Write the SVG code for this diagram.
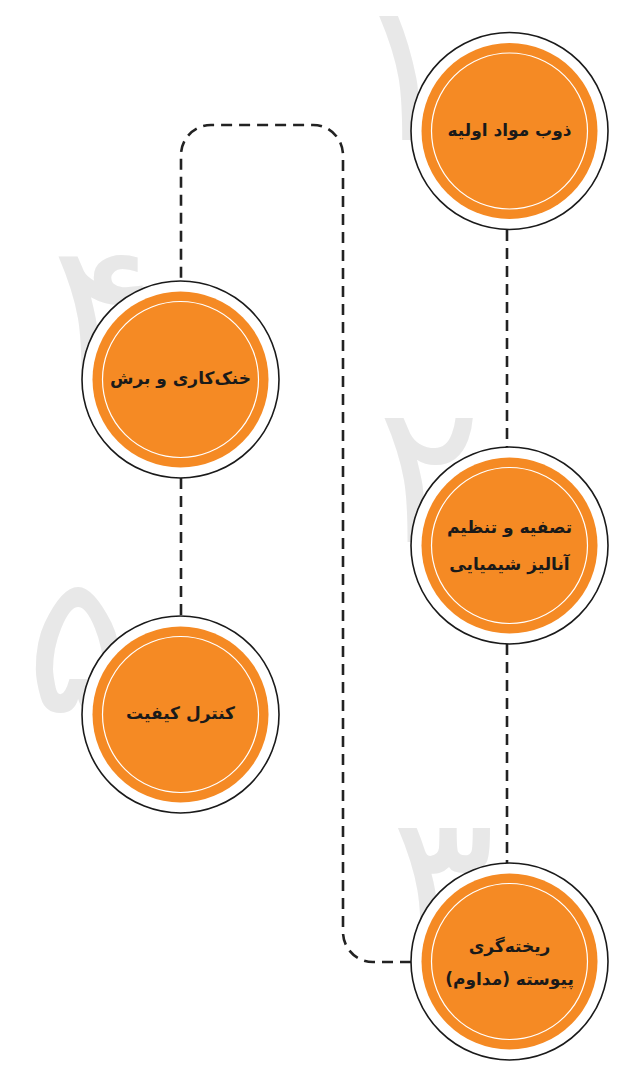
<svg xmlns="http://www.w3.org/2000/svg" width="643" height="1079" viewBox="0 0 643 1079">
<style>
.num{font-family:"DejaVu Sans",sans-serif;font-size:195px;font-weight:normal;fill:#e8e8e8;text-anchor:middle}
.outer{fill:#fff;stroke:#1a1a1a;stroke-width:1.6}
.fill{fill:#f58a24}
.ring{fill:none;stroke:#fff;stroke-width:1.2}
.lbl{font-family:"DejaVu Sans","Noto Sans",sans-serif;font-size:17px;font-weight:bold;fill:#1a1a1a;text-anchor:middle}
.conn{fill:none;stroke:#222;stroke-width:2.6;stroke-dasharray:11 7}
</style>
<rect width="643" height="1079" fill="#fff"/>
<g id="numerals">
<text class="num" x="405" y="140">۱</text>
<text class="num" x="429" y="542">۲</text>
<text class="num" x="443" y="952">۳</text>
<text class="num" x="103" y="380">۴</text>
<text class="num" x="78" y="712">۵</text>
</g>
<g id="connectors">
<path class="conn" d="M507 230 V448"/>
<path class="conn" d="M507 644 V863"/>
<path class="conn" d="M411 962 H373 A30 30 0 0 1 343 932 V155 A30 30 0 0 0 313 125 H211 A30 30 0 0 0 181 155 V281"/>
<path class="conn" d="M181 478 V616"/>
</g>
<g id="node1">
<circle class="outer" cx="509.5" cy="131" r="98.5"/>
<circle class="fill" cx="509.5" cy="131" r="88"/>
<circle class="ring" cx="509.5" cy="131" r="78"/>
<text class="lbl" x="509.5" y="136" direction="rtl">ذوب مواد اولیه</text>
</g>
<g id="node2">
<circle class="outer" cx="509.5" cy="545.5" r="98.5"/>
<circle class="fill" cx="509.5" cy="545.5" r="88"/>
<circle class="ring" cx="509.5" cy="545.5" r="78"/>
<text class="lbl" x="509.5" y="533" direction="rtl">تصفیه و تنظیم</text>
<text class="lbl" x="509.5" y="570" direction="rtl">آنالیز شیمیایی</text>
</g>
<g id="node3">
<circle class="outer" cx="509.5" cy="961.5" r="98.5"/>
<circle class="fill" cx="509.5" cy="961.5" r="88"/>
<circle class="ring" cx="509.5" cy="961.5" r="78"/>
<text class="lbl" x="509.5" y="952" direction="rtl">ریخته‌گری</text>
<text class="lbl" x="509.5" y="985" direction="rtl">پیوسته (مداوم)</text>
</g>
<g id="node4">
<circle class="outer" cx="180.5" cy="379.5" r="98.5"/>
<circle class="fill" cx="180.5" cy="379.5" r="88"/>
<circle class="ring" cx="180.5" cy="379.5" r="78"/>
<text class="lbl" x="180.5" y="384" direction="rtl">خنک‌کاری و برش</text>
</g>
<g id="node5">
<circle class="outer" cx="180.5" cy="714.5" r="98.5"/>
<circle class="fill" cx="180.5" cy="714.5" r="88"/>
<circle class="ring" cx="180.5" cy="714.5" r="78"/>
<text class="lbl" x="180.5" y="719" direction="rtl">کنترل کیفیت</text>
</g>
</svg>
